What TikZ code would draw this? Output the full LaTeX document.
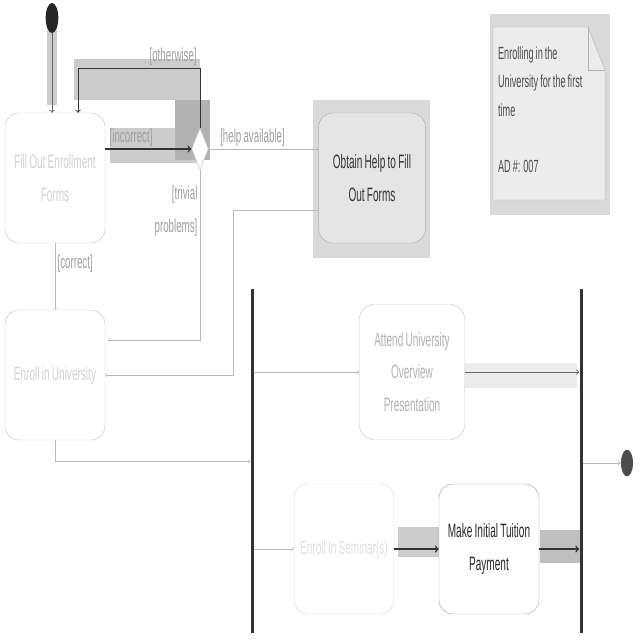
\documentclass[tikz,border=0pt]{standalone}
\usepackage{fontspec}
\setmainfont{Liberation Sans}[FakeStretch=0.52, WordSpace=0.8]
\usetikzlibrary{arrows,positioning,shapes.geometric}

\begin{document}
\begin{tikzpicture}[
    x=0.03cm, y=-0.03cm,
    >=to,
    activity/.style = {
      draw = gray!45,
      rounded corners = 12pt,
      align = center,
      minimum width = 3cm,
      minimum height = 3.9cm,
      font = \fontsize{16.5}{28}\selectfont,
      text = gray!35
    },
    flow/.style = {->, gray!55},
    strong/.style = {->, black!80, very thick},
    guard/.style = {font = \fontsize{16}{28}\selectfont, text = gray!75, inner sep = 2pt},
    bar/.style = {fill = black!80, inner sep = 0pt, minimum width = 0.09cm, minimum height = 10.3cm},
    dot/.style = {ellipse, fill = black!85, inner sep = 0pt, minimum width = 0.38cm, minimum height = 0.9cm},
    hl/.style = {fill = gray!40, draw = none}
  ]
  \useasboundingbox (0,0) rectangle (640,640);

  % grey patches
  \fill[hl] (47,30) rectangle (57,105);
  \fill[hl] (74,59) rectangle (200,100);
  \fill[hl] (110,128) rectangle (200,163);
  \fill[gray!60] (175,100) rectangle (210,160);
  \fill[gray!30] (313,100) rectangle (430,258);
  \fill[gray!30] (490,14) rectangle (610,215);
  \fill[gray!15] (465,363) rectangle (577,388);
  \fill[hl] (398,527) rectangle (440,557);
  \fill[gray!50] (540,530) rectangle (582,563);

  % activities
  \node[dot] (start) at (52,18) {};
  \node[activity] (fill) at (55,178) {Fill Out Enrollment\\Forms};
  \node[diamond, draw = gray!45, fill = white, inner sep = 0pt, minimum width = 0.5cm, minimum height = 1.25cm] (decision) at (200,149) {};
  \node[activity, fill = gray!20, draw = gray!65, minimum width = 3.2cm, text = black!80] (help) at (372,178) {Obtain Help to Fill\\Out Forms};
  \node[activity] (enroll) at (55,375) {Enroll in University};
  \node[bar] (fork) at (252,461) {};
  \node[bar] (join) at (581,461) {};
  \node[activity, fill = white, minimum width = 3.15cm, minimum height = 4.05cm, text = gray!60] (attend) at (412,372) {Attend University\\Overview\\Presentation};
  \node[activity, text = gray!25, draw = gray!30] (seminar) at (344,549) {Enroll In Seminar(s)};
  \node[activity, fill = white, draw = gray!70, text = black!85] (payment) at (489,549) {Make Initial Tuition\\Payment};
  \node[dot, fill = black!70, minimum width = 0.36cm, minimum height = 0.8cm] (finish) at (627,463) {};

  % note
  \draw[draw = gray!60, fill = gray!15] (493,27) -- (588,27) -- (605,70) -- (605,200) -- (493,200) -- cycle;
  \draw[draw = gray!60] (588,27) -- (588,70) -- (605,70);
  \node[anchor = north west, align = left, font = \fontsize{15}{24}\selectfont, text = black!70] (note) at (494,43)
    {Enrolling in the\\University for the first\\time\\\mbox{}\\AD \#: 007};

  \coordinate (loop) at (78,68);
  \coordinate (trivial) at (108,340);
  \coordinate (merge) at (233,375);

  % transitions
  \draw[flow, black!60, thick] (start.south) -- (start.south |- fill.north);
  \draw[strong] (fill.east |- decision.west) -- node[guard, above, pos = 0.3] {[incorrect]} (decision.west);
  \draw[strong, thick] (decision.north) |- node[guard, above, pos = 0.61] {[otherwise]} (loop) -- (loop |- fill.north);
  \draw[flow] (decision.east) -- node[guard, above, pos = 0.4] {[help available]} (help.west |- decision.east);
  \draw[flow] (decision.south) |- node[guard, left, align = right, pos = 0.12] {[trivial\\problems]} (trivial);
  \draw[flow] ([yshift = -0.96cm]help.west) -| (merge) -- (enroll.east);
  \draw[flow] (fill.south) -- node[guard, right, pos = 0.3] {[correct]} (enroll.north);
  \draw[flow] (enroll.south) |- (fork.west);
  \draw[flow] (fork.east |- attend.west) -- (attend.west);
  \draw[flow] (fork.east |- seminar.west) -- (seminar.west);
  \draw[flow, black!60, thick] (attend.east) -- (join.west |- attend.east);
  \draw[strong] (seminar.east) -- (payment.west);
  \draw[strong] (payment.east) -- (join.west |- payment.east);
  \draw[flow, thick] (join.east |- finish.west) -- (finish.west);
\end{tikzpicture}
\end{document}
